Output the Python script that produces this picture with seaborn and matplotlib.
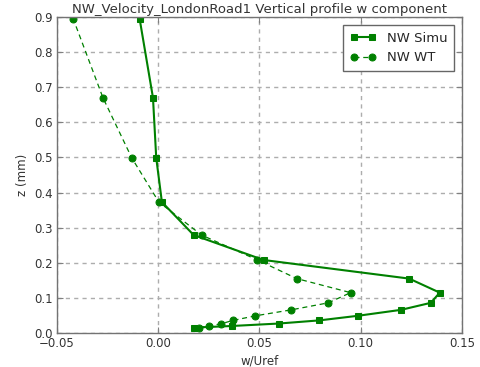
import matplotlib
matplotlib.use("Agg")
import matplotlib.pyplot as plt
import seaborn as sns
import pandas as pd

# Vertical profile of the w velocity component (normalised by Uref)
z_simu = [0.0154, 0.020, 0.027, 0.036, 0.049, 0.066, 0.086, 0.115, 0.155,
          0.208, 0.279, 0.373, 0.499, 0.670, 0.895]
w_simu = [0.0175, 0.0363, 0.0595, 0.0796, 0.0985, 0.1199, 0.1346, 0.1390,
          0.1239, 0.0520, 0.0175, 0.0018, -0.0010, -0.0026, -0.0092]

z_wt = [0.0154, 0.020, 0.026, 0.036, 0.049, 0.066, 0.086, 0.115, 0.155,
        0.208, 0.279, 0.373, 0.499, 0.670, 0.895]
w_wt = [0.0203, 0.0250, 0.0308, 0.0370, 0.0480, 0.0657, 0.0840, 0.0950,
        0.0684, 0.0490, 0.0214, 0.0003, -0.0131, -0.0273, -0.0420]

x_ticks = [-0.05, 0.00, 0.05, 0.10, 0.15]
y_ticks = [0.0, 0.1, 0.2, 0.3, 0.4, 0.5, 0.6, 0.7, 0.8, 0.9]

sns.set_style("white")
plt.rcParams["font.family"] = ["DejaVu Sans"]

fig = plt.figure(figsize=(4.81, 3.67), dpi=100)
ax = fig.add_axes([0.1185, 0.0926, 0.842, 0.861])

simu = pd.DataFrame({"w": w_simu, "z": z_simu})
wt = pd.DataFrame({"w": w_wt, "z": z_wt})

green = (0.0, 0.5, 0.0)
sns.lineplot(data=simu, x="w", y="z", sort=False, estimator=None, ax=ax,
             color=green, linewidth=1.5, marker="s", markersize=5,
             markeredgecolor=green, label="NW Simu")
sns.lineplot(data=wt, x="w", y="z", sort=False, estimator=None, ax=ax,
             color=green, linewidth=0.9, linestyle=(0, (4, 3)), marker="o",
             markersize=5, markeredgecolor=green, label="NW WT")

ax.set_xlim(-0.05, 0.15)
ax.set_ylim(0.0, 0.9)
ax.set_xticks(x_ticks)
ax.set_yticks(y_ticks)
ax.set_xticklabels([f"{t:.2f}".replace("-", "\u2212") for t in x_ticks])
ax.set_yticklabels([f"{t:.1f}" for t in y_ticks])
ax.tick_params(direction="in", length=4, colors="0.5", labelcolor="0.2",
               labelsize=8.5, pad=3, top=True, right=True, bottom=True,
               left=True)

ax.grid(True, color="0.68", linestyle=(0, (3, 3)), linewidth=1.0)
for s in ax.spines.values():
    s.set_color("0.45")
    s.set_linewidth(1.0)

ax.set_xlabel("w/Uref", fontsize=8.5, color="0.2", labelpad=3)
ax.set_ylabel("z (mm)", fontsize=8.5, color="0.2", labelpad=4)
ax.set_title("NW_Velocity_LondonRoad1 Vertical profile w component",
             fontsize=9.5, color="0.2", pad=3)

leg = ax.legend(loc="upper right", numpoints=2, fontsize=9.5, fancybox=False,
                framealpha=1, edgecolor="0.4", handlelength=2.0,
                borderpad=0.5, borderaxespad=0.6)
leg.get_frame().set_linewidth(1.0)

fig.savefig("out.png", dpi=100)
